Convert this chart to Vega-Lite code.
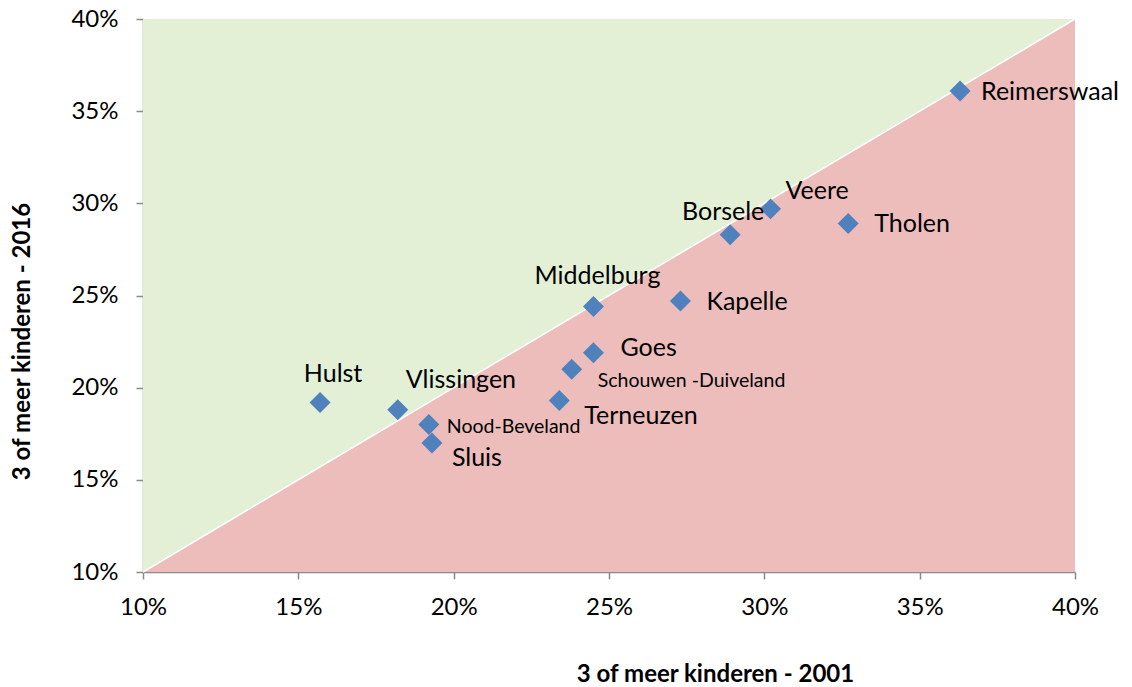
{
  "$schema": "https://vega.github.io/schema/vega-lite/v6.json",
  "autosize": "none",
  "width": 932,
  "height": 553,
  "padding": {"left": 143, "top": 19, "right": 57, "bottom": 115},
  "background": "white",
  "config": {
    "view": {"stroke": null},
    "font": "Lato",
    "axis": {
      "grid": false,
      "labelFlush": false,
      "labelOverlap": false,
      "domainColor": "#8a8a8a",
      "domainWidth": 1.5,
      "tickColor": "#8a8a8a",
      "tickWidth": 1.5,
      "tickSize": 7,
      "labelFont": "Lato",
      "labelFontSize": 24,
      "labelColor": "#000000",
      "titleFont": "Lato",
      "titleFontSize": 24,
      "titleFontWeight": "bold",
      "titleColor": "#000000",
      "zindex": 1
    }
  },
  "datasets": {
    "diag": [
      {"x2001": 0.1, "y2016": 0.1},
      {"x2001": 0.4, "y2016": 0.4}
    ],
    "munis": [
      {"name": "Hulst", "x2001": 0.157, "y2016": 0.192},
      {"name": "Vlissingen", "x2001": 0.182, "y2016": 0.188},
      {"name": "Nood-Beveland", "x2001": 0.192, "y2016": 0.180},
      {"name": "Sluis", "x2001": 0.193, "y2016": 0.170},
      {"name": "Terneuzen", "x2001": 0.234, "y2016": 0.193},
      {"name": "Schouwen -Duiveland", "x2001": 0.238, "y2016": 0.210},
      {"name": "Goes", "x2001": 0.245, "y2016": 0.219},
      {"name": "Middelburg", "x2001": 0.245, "y2016": 0.244},
      {"name": "Kapelle", "x2001": 0.273, "y2016": 0.247},
      {"name": "Borsele", "x2001": 0.289, "y2016": 0.283},
      {"name": "Veere", "x2001": 0.302, "y2016": 0.297},
      {"name": "Tholen", "x2001": 0.327, "y2016": 0.289},
      {"name": "Reimerswaal", "x2001": 0.363, "y2016": 0.361}
    ]
  },
  "encoding": {
    "x": {
      "field": "x2001", "type": "quantitative",
      "scale": {"domain": [0.1, 0.4], "nice": false, "zero": false},
      "axis": {
        "values": [0.1, 0.15, 0.2, 0.25, 0.3, 0.35, 0.4],
        "format": ".0%",
        "labelPadding": 16,
        "title": "3 of meer kinderen - 2001",
        "titleX": 572, "titleY": 102,
        "titleBaseline": "middle", "titleAlign": "center"
      }
    },
    "y": {
      "field": "y2016", "type": "quantitative",
      "scale": {"domain": [0.1, 0.4], "nice": false, "zero": false},
      "axis": {
        "values": [0.1, 0.15, 0.2, 0.25, 0.3, 0.35, 0.4],
        "format": ".0%",
        "labelPadding": 18,
        "title": "3 of meer kinderen - 2016",
        "titleX": -121, "titleY": 322,
        "titleBaseline": "middle", "titleAlign": "center", "titleAngle": -90
      }
    }
  },
  "layer": [
    {
      "data": {"name": "diag"},
      "mark": {"type": "area", "color": "#e3f0d5", "opacity": 1},
      "encoding": {"y2": {"datum": 0.4}}
    },
    {
      "data": {"name": "diag"},
      "mark": {"type": "area", "color": "#edbdbc", "opacity": 1},
      "encoding": {"y2": {"datum": 0.1}}
    },
    {
      "data": {"name": "diag"},
      "mark": {"type": "line", "color": "#ffffff", "strokeWidth": 1.5},
      "encoding": {}
    },
    {
      "data": {"name": "munis"},
      "mark": {"type": "point", "shape": "diamond", "filled": true, "size": 440, "color": "#4f81bd", "opacity": 1},
      "encoding": {}
    },
    {"data": {"name": "munis"}, "transform": [{"filter": "datum.name == 'Hulst'"}],
     "mark": {"type": "text", "fontSize": 25, "align": "center", "baseline": "middle", "dx": 13, "dy": -28, "color": "#000"},
     "encoding": {"text": {"field": "name"}}},
    {"data": {"name": "munis"}, "transform": [{"filter": "datum.name == 'Vlissingen'"}],
     "mark": {"type": "text", "fontSize": 25, "align": "left", "baseline": "middle", "dx": 8, "dy": -30, "color": "#000"},
     "encoding": {"text": {"field": "name"}}},
    {"data": {"name": "munis"}, "transform": [{"filter": "datum.name == 'Nood-Beveland'"}],
     "mark": {"type": "text", "fontSize": 19.5, "align": "left", "baseline": "middle", "dx": 18, "dy": 2, "color": "#000"},
     "encoding": {"text": {"field": "name"}}},
    {"data": {"name": "munis"}, "transform": [{"filter": "datum.name == 'Sluis'"}],
     "mark": {"type": "text", "fontSize": 25, "align": "left", "baseline": "middle", "dx": 20, "dy": 15, "color": "#000"},
     "encoding": {"text": {"field": "name"}}},
    {"data": {"name": "munis"}, "transform": [{"filter": "datum.name == 'Terneuzen'"}],
     "mark": {"type": "text", "fontSize": 25, "align": "left", "baseline": "middle", "dx": 25, "dy": 15, "color": "#000"},
     "encoding": {"text": {"field": "name"}}},
    {"data": {"name": "munis"}, "transform": [{"filter": "datum.name == 'Schouwen -Duiveland'"}],
     "mark": {"type": "text", "fontSize": 19.5, "align": "left", "baseline": "middle", "dx": 26, "dy": 12, "color": "#000"},
     "encoding": {"text": {"field": "name"}}},
    {"data": {"name": "munis"}, "transform": [{"filter": "datum.name == 'Goes'"}],
     "mark": {"type": "text", "fontSize": 25, "align": "left", "baseline": "middle", "dx": 27, "dy": -5, "color": "#000"},
     "encoding": {"text": {"field": "name"}}},
    {"data": {"name": "munis"}, "transform": [{"filter": "datum.name == 'Middelburg'"}],
     "mark": {"type": "text", "fontSize": 25, "align": "center", "baseline": "middle", "dx": 4, "dy": -31, "color": "#000"},
     "encoding": {"text": {"field": "name"}}},
    {"data": {"name": "munis"}, "transform": [{"filter": "datum.name == 'Kapelle'"}],
     "mark": {"type": "text", "fontSize": 25, "align": "left", "baseline": "middle", "dx": 26, "dy": 1, "color": "#000"},
     "encoding": {"text": {"field": "name"}}},
    {"data": {"name": "munis"}, "transform": [{"filter": "datum.name == 'Borsele'"}],
     "mark": {"type": "text", "fontSize": 25, "align": "center", "baseline": "middle", "dx": -7, "dy": -23, "color": "#000"},
     "encoding": {"text": {"field": "name"}}},
    {"data": {"name": "munis"}, "transform": [{"filter": "datum.name == 'Veere'"}],
     "mark": {"type": "text", "fontSize": 25, "align": "left", "baseline": "middle", "dx": 15, "dy": -18, "color": "#000"},
     "encoding": {"text": {"field": "name"}}},
    {"data": {"name": "munis"}, "transform": [{"filter": "datum.name == 'Tholen'"}],
     "mark": {"type": "text", "fontSize": 25, "align": "left", "baseline": "middle", "dx": 26, "dy": 0, "color": "#000"},
     "encoding": {"text": {"field": "name"}}},
    {"data": {"name": "munis"}, "transform": [{"filter": "datum.name == 'Reimerswaal'"}],
     "mark": {"type": "text", "fontSize": 25, "align": "left", "baseline": "middle", "dx": 21, "dy": 1, "color": "#000"},
     "encoding": {"text": {"field": "name"}}}
  ]
}
